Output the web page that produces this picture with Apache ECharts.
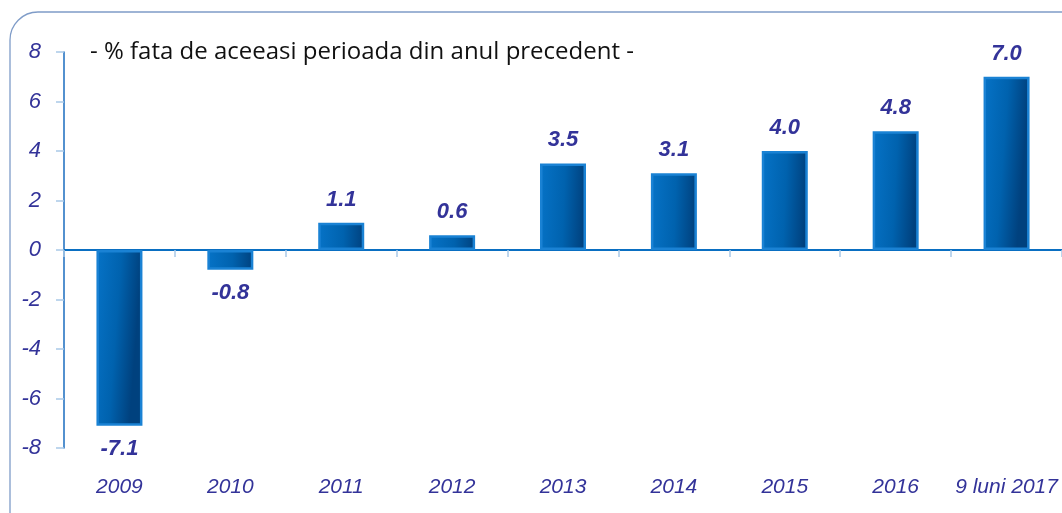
<!DOCTYPE html>
<html>
<head>
<meta charset="utf-8">
<script src="https://cdn.jsdelivr.net/npm/echarts@6/dist/echarts.min.js"></script>
<style>
  html, body { margin: 0; padding: 0; background: #fff; }
  #chart { width: 1062px; height: 513px; }
</style>
</head>
<body>
<div id="chart"></div>
<script>
// categorii si valori (% fata de aceeasi perioada din anul precedent)
var categories = ['2009', '2010', '2011', '2012', '2013', '2014', '2015', '2016', '9 luni 2017'];
var values = [-7.1, -0.8, 1.1, 0.6, 3.5, 3.1, 4.0, 4.8, 7.0];
var yTicks = { min: -8, max: 8, step: 2 };
var subtitle = '- % fata de aceeasi perioada din anul precedent -';

var labelColor = '#333399';
var fontFam = '"Liberation Sans", Arial, sans-serif';
var chart = echarts.init(document.getElementById('chart'));

// gradient aproape orizontal (stanga luminos, dreapta inchis)
var barColor = new echarts.graphic.LinearGradient(0, 0, 1, 0.02, [
  { offset: 0, color: '#0673c7' },
  { offset: 0.55, color: '#0062ae' },
  { offset: 1, color: '#00417e' }
]);

var seriesData = values.map(function (v) {
  return {
    value: v,
    label: { position: v < 0 ? 'bottom' : 'top' }
  };
});

var option = {
  backgroundColor: '#fff',
  animation: false,
  graphic: [
    {
      type: 'rect',
      shape: { x: 10, y: 12, width: 1100, height: 560, r: 28 },
      style: { fill: 'none', stroke: '#7f9cc8', lineWidth: 1.3 },
      silent: true
    },
    {
      type: 'text',
      left: 90,
      top: 40,
      style: {
        text: subtitle,
        fill: '#111',
        font: '24px "Open Sans", sans-serif'
      }
    }
  ],
  grid: { left: 64, width: 1003, top: 52, bottom: 65 },
  xAxis: [
    {
      type: 'category',
      data: categories,
      axisLine: { onZero: true, lineStyle: { color: '#0a6fc2', width: 2 } },
      axisTick: { show: true, length: 7, lineStyle: { color: '#a9c9e8', width: 1.5 } },
      axisLabel: { show: false }
    },
    {
      type: 'category',
      data: categories,
      position: 'bottom',
      axisLine: { show: false, onZero: false },
      axisTick: { show: false },
      axisLabel: {
        interval: 0,
        margin: 29,
        color: labelColor,
        fontSize: 21,
        fontStyle: 'italic',
        fontFamily: fontFam
      }
    }
  ],
  yAxis: {
    type: 'value',
    min: yTicks.min,
    max: yTicks.max,
    interval: yTicks.step,
    splitLine: { show: false },
    axisLine: { show: true, lineStyle: { color: '#1a6cbf', width: 1.5 } },
    axisTick: { show: true, length: 8, lineStyle: { color: '#a9c9e8', width: 1.5 } },
    axisLabel: {
      margin: 23,
      color: labelColor,
      fontSize: 22,
      fontStyle: 'italic',
      fontFamily: fontFam
    }
  },
  series: [{
    type: 'bar',
    data: seriesData,
    barWidth: 46,
    itemStyle: {
      color: barColor,
      borderColor: '#1a82d4',
      borderWidth: 2.5
    },
    label: {
      show: true,
      distance: 12,
      color: labelColor,
      fontSize: 22,
      fontWeight: 'bold',
      fontStyle: 'italic',
      fontFamily: fontFam,
      formatter: function (p) { return p.value.toFixed(1); }
    }
  }]
};

chart.setOption(option);
</script>
</body>
</html>
